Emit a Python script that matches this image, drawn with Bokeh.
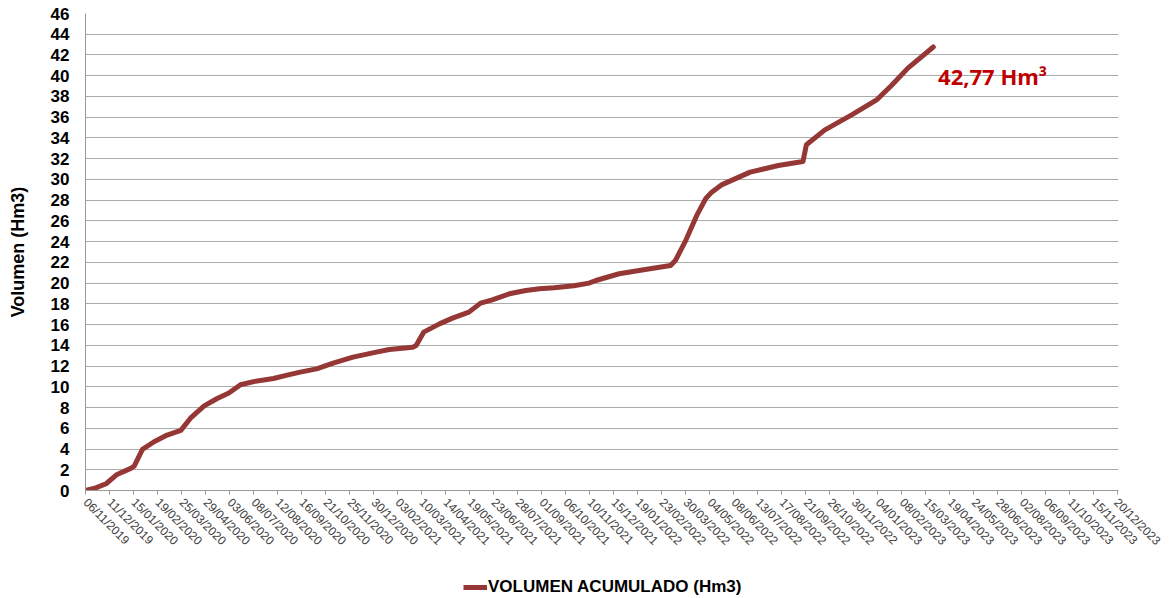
import math
import pandas as pd
from bokeh.plotting import figure
from bokeh.layouts import column
from bokeh.models import (Range1d, FixedTicker, DatetimeTickFormatter, Legend,
                          LegendItem, Label)
from bokeh.embed import file_html
from bokeh.resources import INLINE

# ---------------- data ----------------
dates = [
    "2019-11-06", "2019-11-21", "2019-12-06", "2019-12-22", "2020-01-11",
    "2020-01-16", "2020-01-28", "2020-02-14", "2020-03-04", "2020-03-24",
    "2020-04-07", "2020-04-27", "2020-05-16", "2020-06-02", "2020-06-19",
    "2020-07-08", "2020-08-06", "2020-08-26", "2020-09-14", "2020-10-08",
    "2020-11-01", "2020-11-30", "2021-01-03", "2021-01-22", "2021-02-25",
    "2021-03-02", "2021-03-13", "2021-04-05", "2021-04-24", "2021-05-18",
    "2021-06-04", "2021-06-21", "2021-07-16", "2021-08-09", "2021-08-29",
    "2021-09-19", "2021-10-18", "2021-11-09", "2021-11-19", "2021-12-23",
    "2022-01-30", "2022-03-08", "2022-03-15", "2022-03-30", "2022-04-15",
    "2022-04-28", "2022-05-07", "2022-05-22", "2022-07-02", "2022-08-12",
    "2022-09-17", "2022-09-22", "2022-10-19", "2022-11-27", "2023-01-03",
    "2023-01-24", "2023-02-17", "2023-03-26",
]
volume = [
    0.00, 0.26, 0.65, 1.55, 2.13,
    2.35, 3.97, 4.70, 5.35, 5.80,
    6.97, 8.16, 8.87, 9.40, 10.20,
    10.50, 10.80, 11.13, 11.42, 11.73,
    12.28, 12.86, 13.34, 13.60, 13.82,
    13.98, 15.27, 16.07, 16.62, 17.20,
    18.07, 18.39, 18.97, 19.29, 19.45,
    19.55, 19.75, 20.00, 20.25, 20.90,
    21.31, 21.70, 22.18, 24.10, 26.50,
    28.13, 28.77, 29.50, 30.70, 31.34,
    31.73, 33.34, 34.78, 36.23, 37.70,
    39.05, 40.73, 42.77,
]
tick_labels = [
    "06/11/2019", "11/12/2019", "15/01/2020", "19/02/2020", "25/03/2020",
    "29/04/2020", "03/06/2020", "08/07/2020", "12/08/2020", "16/09/2020",
    "21/10/2020", "25/11/2020", "30/12/2020", "03/02/2021", "10/03/2021",
    "14/04/2021", "19/05/2021", "23/06/2021", "28/07/2021", "01/09/2021",
    "06/10/2021", "10/11/2021", "15/12/2021", "19/01/2022", "23/02/2022",
    "30/03/2022", "04/05/2022", "08/06/2022", "13/07/2022", "17/08/2022",
    "21/09/2022", "26/10/2022", "30/11/2022", "04/01/2023", "08/02/2023",
    "15/03/2023", "19/04/2023", "24/05/2023", "28/06/2023", "02/08/2023",
    "06/09/2023", "11/10/2023", "15/11/2023", "20/12/2023",
]
y_ticks = [0, 2, 4, 6, 8, 10, 12, 14, 16, 18, 20, 22, 24, 26, 28, 30,
           32, 34, 36, 38, 40, 42, 44, 46]
series_name = "VOLUMEN ACUMULADO (Hm3)"
y_title = "Volumen (Hm3)"
final_label = "42,77 Hm³"
final_label_date = "2023-04-02"
final_label_value = 40.0

LINE_COLOR = "#953735"
LINE_WIDTH = 5

# ---------------- main figure ----------------
x = pd.to_datetime(dates)
tick_dt = pd.to_datetime(tick_labels, format="%d/%m/%Y")
tick_ms = [t.timestamp() * 1000 for t in tick_dt]

p = figure(width=1163, height=560, x_axis_type="datetime",
           output_backend="svg", toolbar_location=None,
           x_range=Range1d(tick_dt[0], tick_dt[-1] + pd.Timedelta(days=1)),
           y_range=Range1d(0, 46),
           min_border_left=85, min_border_right=45,
           min_border_top=13, min_border_bottom=70)
p.outline_line_color = None
p.background_fill_color = "white"
p.border_fill_color = "white"

r = p.line(x, volume, line_color=LINE_COLOR, line_width=LINE_WIDTH,
           line_join="round", line_cap="round")

# x axis
fmt = "%d/%m/%Y"
p.xaxis.ticker = FixedTicker(ticks=tick_ms)
p.xaxis.formatter = DatetimeTickFormatter(
    milliseconds=fmt, seconds=fmt, minsec=fmt, minutes=fmt, hourmin=fmt,
    hours=fmt, days=fmt, months=fmt, years=fmt)
p.xaxis.major_label_orientation = -math.pi / 4
p.xaxis.major_label_text_font = "Liberation Sans"
p.xaxis.major_label_text_font_size = "12px"
p.xaxis.major_label_text_color = "#404040"
p.xaxis.major_tick_out = 4
p.xaxis.major_tick_in = 0
p.xaxis.minor_tick_line_color = None
p.xaxis.major_tick_line_color = "#9a9a9a"
p.xaxis.axis_line_color = "#9a9a9a"
p.xaxis.major_label_standoff = 6

# y axis
p.yaxis.ticker = FixedTicker(ticks=y_ticks)
p.yaxis.major_label_text_font = "Liberation Sans"
p.yaxis.major_label_text_font_style = "bold"
p.yaxis.major_label_text_font_size = "17px"
p.yaxis.major_label_text_color = "black"
p.yaxis.major_tick_out = 0
p.yaxis.major_tick_in = 0
p.yaxis.minor_tick_line_color = None
p.yaxis.axis_line_color = "#9a9a9a"
p.yaxis.major_label_standoff = 16
p.yaxis.axis_label = y_title
p.yaxis.axis_label_text_font = "Liberation Sans"
p.yaxis.axis_label_text_font_style = "bold"
p.yaxis.axis_label_text_font_size = "18px"
p.yaxis.axis_label_text_color = "black"
p.yaxis.axis_label_standoff = 20

p.xgrid.visible = False
p.ygrid.grid_line_color = "#ababab"
p.ygrid.grid_line_width = 1

# end-value annotation
p.add_layout(Label(x=pd.Timestamp(final_label_date).timestamp() * 1000,
                   y=final_label_value, text=final_label,
                   text_font="Open Sans", text_font_style="bold",
                   text_font_size="22px", text_color="#C00000",
                   text_baseline="middle", text_align="left"))

# ---------------- legend strip below the chart ----------------
# The key renderer uses the same series; the strip's ranges keep it off-view,
# so only its legend swatch shows.
lg = figure(width=1163, height=38, output_backend="svg",
            toolbar_location=None, x_axis_location=None,
            y_axis_location=None, x_range=Range1d(0, 1),
            y_range=Range1d(0, 1), min_border=0)
lg.outline_line_color = None
lg.grid.visible = False
key = lg.line(x, volume, line_color=LINE_COLOR, line_width=LINE_WIDTH)
legend = Legend(items=[LegendItem(label=series_name, renderers=[key])],
                location=(378, 1), orientation="horizontal",
                border_line_color=None, background_fill_alpha=0,
                padding=0, margin=0, glyph_width=24, glyph_height=20,
                label_standoff=1, label_text_font="Liberation Sans",
                label_text_font_style="bold", label_text_font_size="17px",
                label_text_color="black")
lg.add_layout(legend)

layout = column(p, lg, spacing=0)
open("out.html", "w").write(file_html(layout, INLINE))
